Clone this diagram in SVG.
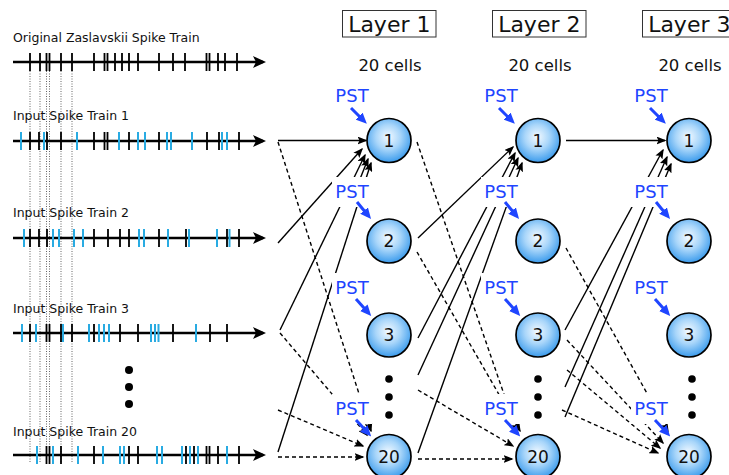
<svg xmlns="http://www.w3.org/2000/svg" width="729" height="475" viewBox="0 0 729 475">
  <style>
    .lbl { font-family: "DejaVu Sans", "Liberation Sans", sans-serif; fill: #111; }
    .train { font-size: 12.5px; }
    .layer { font-size: 22px; text-anchor: middle; }
    .cells { font-size: 16.5px; text-anchor: middle; }
    .pst { font-family: "DejaVu Sans", "Liberation Sans", sans-serif; font-size: 18px; fill: #1f45ff; text-anchor: middle; }
    .num { font-family: "DejaVu Sans", "Liberation Sans", sans-serif; font-size: 17px; fill: #111; text-anchor: middle; }
    .axis { stroke: #000; stroke-width: 2.5; fill: none; }
    .blk { stroke: #000; stroke-width: 1.8; fill: none; }
    .blu { stroke: #29abe2; stroke-width: 2; fill: none; }
    .guide { stroke: #222; stroke-width: 0.7; stroke-dasharray: 1 1.5; fill: none; }
    .solid { stroke: #000; stroke-width: 1.4; fill: none; }
    .dash { stroke: #000; stroke-width: 1.4; stroke-dasharray: 4 3; fill: none; }
    .cell { fill: url(#cellFill); stroke: #000; stroke-width: 1.7; }
    .pstArrow { stroke: #1f45ff; stroke-width: 3; fill: none; }
    .mask { fill: #fff; }
  </style>
  <defs>
    <radialGradient id="cellFill" cx="0.48" cy="0.42" r="0.62">
      <stop offset="0" stop-color="#f4faff"/>
      <stop offset="0.45" stop-color="#a9d6fa"/>
      <stop offset="1" stop-color="#2c93ea"/>
    </radialGradient>
    <marker id="bigHead" markerUnits="userSpaceOnUse" viewBox="0 0 13 12" markerWidth="13" markerHeight="12" refX="10" refY="6" orient="auto">
      <path d="M0,0 L13,6 L0,12 L3,6 z" fill="#000"/>
    </marker>
    <marker id="head" markerUnits="userSpaceOnUse" viewBox="0 0 10 8" markerWidth="10" markerHeight="8" refX="8.5" refY="4" orient="auto">
      <path d="M0,0 L10,4 L0,8 L2,4 z" fill="#000"/>
    </marker>
    <marker id="blueHead" markerUnits="userSpaceOnUse" viewBox="0 0 11 10" markerWidth="11" markerHeight="10" refX="7" refY="5" orient="auto">
      <path d="M0,0 L11,5 L0,10 z" fill="#1f45ff"/>
    </marker>
  </defs>

  <rect width="729" height="475" fill="#fff"/>

  <!-- spike trains -->
  <g id="trains">
    <!-- dotted guides from the original spikes -->
    <path class="guide" d="M30,71 V463 M40,71 V463 M46.5,71 V463 M49.5,71 V463 M61,71 V463 M72,71 V463"/>

    <text class="lbl train" x="13" y="42">Original Zaslavskii Spike Train</text>
    <path class="axis" d="M13,62 H263" marker-end="url(#bigHead)"/>
    <path class="blk" d="M30,53V71M40,53V71M46.5,53V71M49.5,53V71M61,53V71M72,53V71M94,53V71M104.5,53V71M107.5,53V71M115,53V71M122,53V71M129,53V71M138,53V71M159,53V71M173,53V71M185,53V71M206.5,53V71M209.5,53V71M218,53V71M225,53V71M237,53V71"/>

    <text class="lbl train" x="13" y="120">Input Spike Train 1</text>
    <path class="axis" d="M13,141 H263" marker-end="url(#bigHead)"/>
    <path class="blk" d="M30,132V150M39,132V150M47,132V150M61,132V150M94,132V150M104.5,132V150M107.5,132V150M129,132V150M159,132V150M207,132V150M219,132V150M239,132V150"/>
    <path class="blu" d="M21,132V150M44,132V150M77,132V150M119,132V150M138,132V150M145,132V150M167,132V150M171,132V150M192,132V150M222,132V150M227,132V150"/>

    <text class="lbl train" x="13" y="217">Input Spike Train 2</text>
    <path class="axis" d="M13,238 H263" marker-end="url(#bigHead)"/>
    <path class="blk" d="M30,229V247M39,229V247M47,229V247M94,229V247M108,229V247M120,229V247M129,229V247M159,229V247M186,229V247M227,229V247M239,229V247"/>
    <path class="blu" d="M24,229V247M53,229V247M59,229V247M74,229V247M83,229V247M139,229V247M144,229V247M168,229V247M189,229V247M217,229V247M229.5,229V247"/>

    <text class="lbl train" x="13" y="313">Input Spike Train 3</text>
    <path class="axis" d="M13,333 H263" marker-end="url(#bigHead)"/>
    <path class="blk" d="M30,324V342M46.5,324V342M49.5,324V342M61,324V342M72,324V342M94,324V342M120,324V342M138,324V342M173,324V342M210,324V342M227,324V342"/>
    <path class="blu" d="M22,324V342M36,324V342M63,324V342M89,324V342M99,324V342M104,324V342M109,324V342M151,324V342M155,324V342M158.5,324V342M196,324V342"/>

    <circle cx="129" cy="370" r="4" fill="#000"/>
    <circle cx="129" cy="387" r="4" fill="#000"/>
    <circle cx="129" cy="404" r="4" fill="#000"/>

    <text class="lbl train" x="13" y="436">Input Spike Train 20</text>
    <path class="axis" d="M13,455 H263" marker-end="url(#bigHead)"/>
    <path class="blk" d="M46.5,446V464M49.5,446V464M61,446V464M94,446V464M129,446V464M138,446V464M186,446V464M194,446V464M206.5,446V464M209.5,446V464M218,446V464M239,446V464"/>
    <path class="blu" d="M37,446V464M53,446V464M78,446V464M103,446V464M120,446V464M124,446V464M157,446V464M162,446V464M182,446V464M190,446V464M198,446V464M227,446V464"/>
  </g>

  <!-- connectors -->
  <g id="connectors">
    <!-- inputs to layer 1 -->
    <path class="solid" d="M278,140.5 L366,140.5" marker-end="url(#head)"/>
    <path class="solid" d="M278,243 L362,149" marker-end="url(#head)"/>
    <path class="solid" d="M280,330 L365,155" marker-end="url(#head)"/>
    <path class="solid" d="M350,204 L368,159" marker-end="url(#head)"/>
    <path class="solid" d="M278,452 L371,163" marker-end="url(#head)"/>
    <path class="dash" d="M278,142 L371,431" marker-end="url(#head)"/>
    <path class="dash" d="M280,333 L367,435" marker-end="url(#head)"/>
    <path class="dash" d="M278,410 L363,446" marker-end="url(#head)"/>
    <path class="dash" d="M278,457 L363,457" marker-end="url(#head)"/>

    <!-- layer 1 to layer 2 -->
    <path class="solid" d="M418,238 L513,147" marker-end="url(#head)"/>
    <path class="solid" d="M418,338 L515,153" marker-end="url(#head)"/>
    <path class="solid" d="M418,375 L518,158" marker-end="url(#head)"/>
    <path class="solid" d="M418,453 L522,163" marker-end="url(#head)"/>
    <path class="dash" d="M417,142 L517,432" marker-end="url(#head)"/>
    <path class="dash" d="M417,252 L520,431" marker-end="url(#head)"/>
    <path class="dash" d="M418,390 L513,446" marker-end="url(#head)"/>
    <path class="dash" d="M418,459 L512,459" marker-end="url(#head)"/>

    <!-- layer 2 to layer 3 -->
    <path class="solid" d="M566,140.5 L665,140.5" marker-end="url(#head)"/>
    <path class="solid" d="M565,330 L663,150" marker-end="url(#head)"/>
    <path class="solid" d="M565,387 L667,157" marker-end="url(#head)"/>
    <path class="solid" d="M565,417 L671,164" marker-end="url(#head)"/>
    <path class="dash" d="M566,248 L668,431" marker-end="url(#head)"/>
    <path class="dash" d="M567,340 L663,443" marker-end="url(#head)"/>
    <path class="dash" d="M567,370 L660,448" marker-end="url(#head)"/>
    <path class="dash" d="M562,410 L658,453" marker-end="url(#head)"/>
  </g>

  <!-- layer headers -->
  <g id="layer1-head">
    <rect x="342.5" y="10.5" width="93.5" height="26.5" fill="#fff" stroke="#333" stroke-width="1"/>
    <text class="lbl layer" x="389.3" y="32">Layer 1</text>
    <text class="lbl cells" x="390" y="71">20 cells</text>
  </g>
  <g id="layer2-head">
    <rect x="492.5" y="10.5" width="93.5" height="26.5" fill="#fff" stroke="#333" stroke-width="1"/>
    <text class="lbl layer" x="539.3" y="32">Layer 2</text>
    <text class="lbl cells" x="540" y="71">20 cells</text>
  </g>
  <g id="layer3-head">
    <rect x="642.5" y="10.5" width="93.5" height="26.5" fill="#fff" stroke="#333" stroke-width="1"/>
    <text class="lbl layer" x="689.3" y="32">Layer 3</text>
    <text class="lbl cells" x="690" y="71">20 cells</text>
  </g>

  <!-- PST labels (white backing hides the lines passing behind) -->
  <g id="pst-labels">
    <rect class="mask" x="332" y="81" width="40" height="30"/>
    <rect class="mask" x="332" y="177" width="40" height="30"/>
    <rect class="mask" x="332" y="273" width="40" height="30"/>
    <rect class="mask" x="332" y="394" width="40" height="30"/>
    <rect class="mask" x="481" y="81" width="40" height="30"/>
    <rect class="mask" x="481" y="177" width="40" height="30"/>
    <rect class="mask" x="481" y="273" width="40" height="30"/>
    <rect class="mask" x="481" y="394" width="40" height="30"/>
    <rect class="mask" x="631" y="81" width="40" height="30"/>
    <rect class="mask" x="631" y="177" width="40" height="30"/>
    <rect class="mask" x="631" y="273" width="40" height="30"/>
    <rect class="mask" x="631" y="394" width="40" height="30"/>

    <text class="pst" x="352" y="101.5">PST</text>
    <text class="pst" x="352" y="197.5">PST</text>
    <text class="pst" x="352" y="293.5">PST</text>
    <text class="pst" x="352" y="414.5">PST</text>
    <text class="pst" x="501" y="101.5">PST</text>
    <text class="pst" x="501" y="197.5">PST</text>
    <text class="pst" x="501" y="293.5">PST</text>
    <text class="pst" x="501" y="414.5">PST</text>
    <text class="pst" x="651" y="101.5">PST</text>
    <text class="pst" x="651" y="197.5">PST</text>
    <text class="pst" x="651" y="293.5">PST</text>
    <text class="pst" x="651" y="414.5">PST</text>

    <path class="pstArrow" d="M351,108 L364,121" marker-end="url(#blueHead)"/>
    <path class="pstArrow" d="M357,202 L368.5,216" marker-end="url(#blueHead)"/>
    <path class="pstArrow" d="M356,299 L368.5,313" marker-end="url(#blueHead)"/>
    <path class="pstArrow" d="M356,420 L368.5,433.5" marker-end="url(#blueHead)"/>
    <path class="pstArrow" d="M499,108 L512,121" marker-end="url(#blueHead)"/>
    <path class="pstArrow" d="M505,202 L516.5,216" marker-end="url(#blueHead)"/>
    <path class="pstArrow" d="M505,299 L517.5,313" marker-end="url(#blueHead)"/>
    <path class="pstArrow" d="M505,420 L517.5,433.5" marker-end="url(#blueHead)"/>
    <path class="pstArrow" d="M650,108 L663,121" marker-end="url(#blueHead)"/>
    <path class="pstArrow" d="M656,202 L667.5,216" marker-end="url(#blueHead)"/>
    <path class="pstArrow" d="M655,299 L667.5,313" marker-end="url(#blueHead)"/>
    <path class="pstArrow" d="M655,420 L667.5,433.5" marker-end="url(#blueHead)"/>
  </g>

  <!-- layer 1 cells -->
  <g id="L1-n1"><circle class="cell" cx="389" cy="140.5" r="22"/><text class="num" x="389" y="146.5">1</text></g>
  <g id="L1-n2"><circle class="cell" cx="389" cy="241" r="22"/><text class="num" x="389" y="247">2</text></g>
  <g id="L1-n3"><circle class="cell" cx="389" cy="335" r="22"/><text class="num" x="389" y="341">3</text></g>
  <g id="L1-n20"><circle class="cell" cx="389" cy="456.5" r="22"/><text class="num" x="389" y="462.5">20</text></g>
  <g id="L1-more"><circle cx="389" cy="379" r="3.8"/><circle cx="389" cy="397" r="3.8"/><circle cx="389" cy="415" r="3.8"/></g>

  <!-- layer 2 cells -->
  <g id="L2-n1"><circle class="cell" cx="538" cy="140.5" r="22"/><text class="num" x="538" y="146.5">1</text></g>
  <g id="L2-n2"><circle class="cell" cx="538" cy="241" r="22"/><text class="num" x="538" y="247">2</text></g>
  <g id="L2-n3"><circle class="cell" cx="538" cy="335" r="22"/><text class="num" x="538" y="341">3</text></g>
  <g id="L2-n20"><circle class="cell" cx="538" cy="456.5" r="22"/><text class="num" x="538" y="462.5">20</text></g>
  <g id="L2-more"><circle cx="538" cy="379" r="3.8"/><circle cx="538" cy="397" r="3.8"/><circle cx="538" cy="415" r="3.8"/></g>

  <!-- layer 3 cells -->
  <g id="L3-n1"><circle class="cell" cx="689" cy="140.5" r="22"/><text class="num" x="689" y="146.5">1</text></g>
  <g id="L3-n2"><circle class="cell" cx="689" cy="241" r="22"/><text class="num" x="689" y="247">2</text></g>
  <g id="L3-n3"><circle class="cell" cx="689" cy="335" r="22"/><text class="num" x="689" y="341">3</text></g>
  <g id="L3-n20"><circle class="cell" cx="689" cy="456.5" r="22"/><text class="num" x="689" y="462.5">20</text></g>
  <g id="L3-more"><circle cx="692" cy="379" r="3.8"/><circle cx="692" cy="397" r="3.8"/><circle cx="692" cy="415" r="3.8"/></g>
</svg>
